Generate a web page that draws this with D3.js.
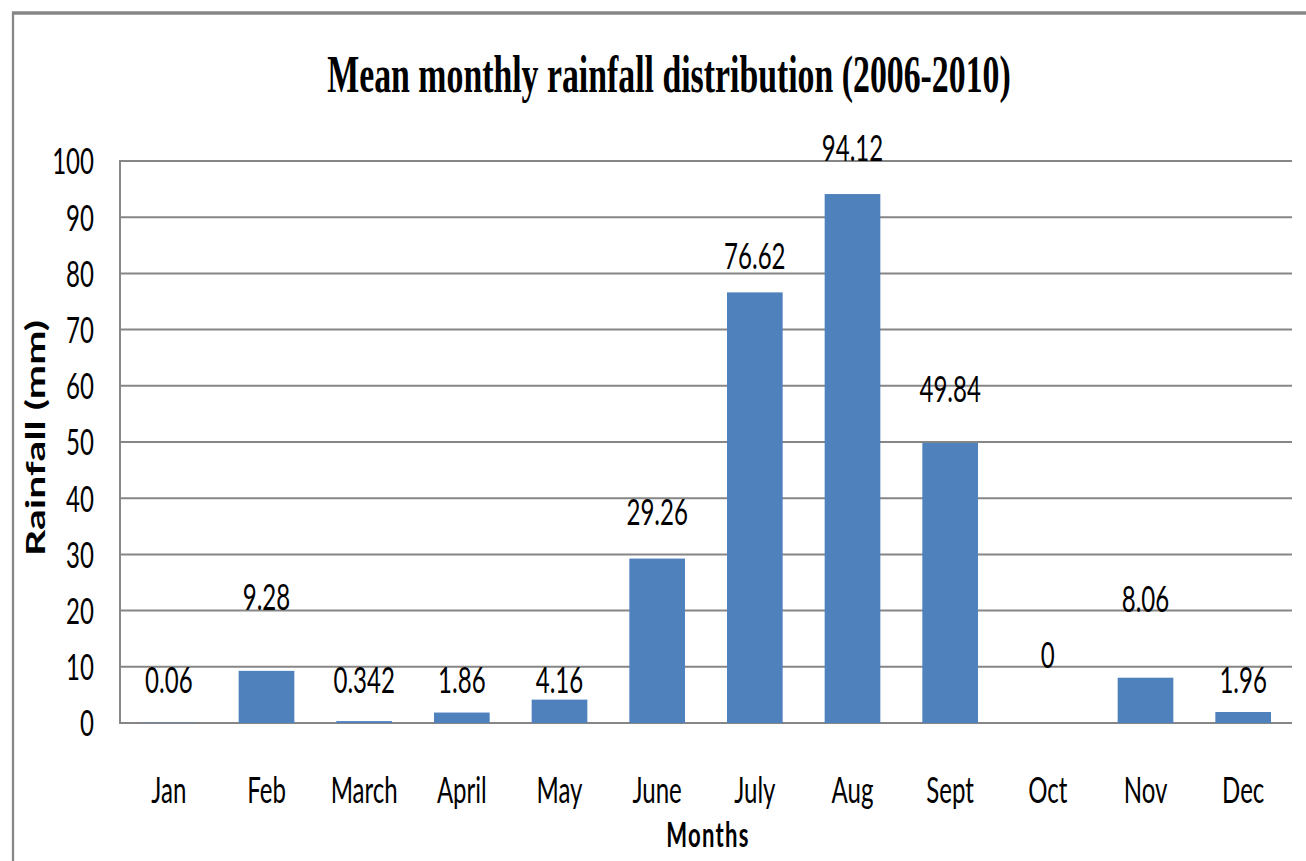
<!DOCTYPE html>
<html>
<head>
	<meta charset="utf-8">
	<title>Mean monthly rainfall distribution</title>
	<style type="text/css">
	body{
		margin:0;
		background:#fff;
	}
	.grid line{
		stroke:#868686;
		stroke-width:2;
	}
	.lbl{
		font-family:Lato, "Open Sans", sans-serif;
		font-size:37px;
		fill:#000;
	}
	</style>
	<script type="text/javascript" src="https://cdn.jsdelivr.net/npm/d3@7/dist/d3.min.js"></script>
</head>
<body>
<script type="text/javascript">
	var width = 1306;
	var height = 861;

	// data
	var months = ["Jan", "Feb", "March", "April", "May", "June", "July", "Aug", "Sept", "Oct", "Nov", "Dec"];
	var rainfall = [0.06, 9.28, 0.342, 1.86, 4.16, 29.26, 76.62, 94.12, 49.84, 0, 8.06, 1.96];
	var labelText = ["0.06", "9.28", "0.342", "1.86", "4.16", "29.26", "76.62", "94.12", "49.84", "0", "8.06", "1.96"];
	// where each value label sits, in mm on the axis (as placed in the picture)
	var labelAt = [5.4, 20.1, 5.4, 5.4, 5.4, 35.3, 80.7, 100, 57.2, 9.8, 19.8, 5.4];
	var yTicks = [0, 10, 20, 30, 40, 50, 60, 70, 80, 90, 100];

	// the whole picture is squeezed sideways, so draw in a wider space and scale x
	var sx = 0.65;
	function X(px){ return px / sx; }

	var svg = d3.select("body")
				.append("svg")
				.attr("width", width)
				.attr("height", height);

	var root = svg.append("g")
				.attr("transform", "scale(" + sx + ",1)");

	// outer frame (right and bottom run off the page)
	root.append("rect")
		.attr("x", X(13))
		.attr("y", 13)
		.attr("width", X(1330))
		.attr("height", 900)
		.style("fill", "none")
		.style("stroke", "#868686")
		.style("stroke-width", 3.5);

	var pLeft = 120, pRight = 1292, pTop = 161, pBottom = 723;

	var x = d3.scaleBand()
			.domain(months)
			.range([X(pLeft), X(pRight)])
			.paddingInner(0.43)
			.paddingOuter(0.215);

	var y = d3.scaleLinear()
			.domain([0, 100])
			.range([pBottom, pTop]);

	// gridlines
	root.append("g")
		.attr("class", "grid")
		.selectAll("line")
		.data(yTicks)
		.enter()
		.append("line")
		.attr("x1", X(pLeft))
		.attr("x2", X(pRight))
		.attr("y1", function(d){ return y(d); })
		.attr("y2", function(d){ return y(d); });

	root.append("line")
		.attr("x1", X(pLeft)).attr("x2", X(pLeft))
		.attr("y1", pTop - 1).attr("y2", pBottom + 1)
		.style("stroke", "#868686")
		.style("stroke-width", 3);

	// y tick labels
	root.append("g")
		.selectAll("text")
		.data(yTicks)
		.enter()
		.append("text")
		.attr("class", "lbl")
		.attr("x", X(94))
		.attr("y", function(d){ return y(d); })
		.attr("dy", ".36em")
		.style("text-anchor", "end")
		.text(function(d){ return d; });

	// bars
	root.append("g")
		.selectAll("rect")
		.data(rainfall)
		.enter()
		.append("rect")
		.attr("x", function(d, i){ return x(months[i]); })
		.attr("width", x.bandwidth())
		.attr("y", function(d){ return y(d); })
		.attr("height", function(d){ return y(0) - y(d); })
		.style("fill", "#4F81BD");

	// value labels
	root.append("g")
		.selectAll("text")
		.data(labelText)
		.enter()
		.append("text")
		.attr("class", "lbl")
		.attr("x", function(d, i){ return x(months[i]) + x.bandwidth() / 2; })
		.attr("y", function(d, i){ return y(labelAt[i]); })
		.style("text-anchor", "middle")
		.text(function(d){ return d; });

	// month labels
	root.append("g")
		.selectAll("text")
		.data(months)
		.enter()
		.append("text")
		.attr("class", "lbl")
		.attr("x", function(d){ return x(d) + x.bandwidth() / 2; })
		.attr("y", 803)
		.style("text-anchor", "middle")
		.text(function(d){ return d; });

	// titles
	root.append("text")
		.attr("x", X(669))
		.attr("y", 92)
		.style("text-anchor", "middle")
		.style("font-family", "'Liberation Serif', 'Times New Roman', serif")
		.style("font-weight", "bold")
		.style("font-size", "52px")
		.text("Mean monthly rainfall distribution (2006-2010)");

	root.append("text")
		.attr("x", X(708))
		.attr("y", 847)
		.style("text-anchor", "middle")
		.style("font-family", "Lato, sans-serif")
		.style("font-weight", "bold")
		.style("font-size", "34px")
		.style("letter-spacing", "2px")
		.text("Months");

	root.append("text")
		.attr("transform", "translate(" + X(45) + ",438) rotate(-90)")
		.style("text-anchor", "middle")
		.style("font-family", "Lato, sans-serif")
		.style("font-weight", "bold")
		.style("font-size", "41px")
		.text("Rainfall (mm)");
</script>
</body>
</html>
